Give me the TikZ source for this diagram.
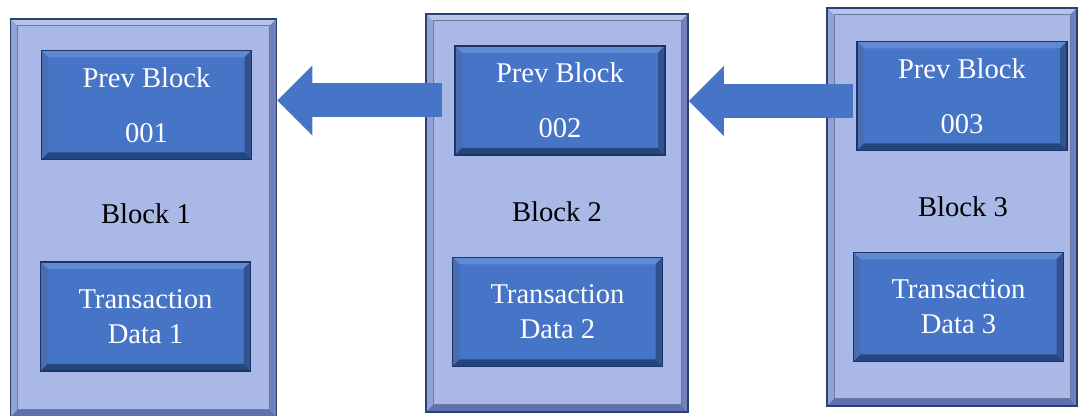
\documentclass[tikz,border=0pt]{standalone}
\usepackage{fontspec}
\setmainfont{Liberation Serif}
\usetikzlibrary{arrows.meta}
\definecolor{lav}{HTML}{A9B8E6}
\definecolor{lavlight}{HTML}{B7C4EE}
\definecolor{lavdark}{HTML}{5E70AE}
\definecolor{rim}{HTML}{2E3F72}
\definecolor{boxblue}{HTML}{4674C6}
\definecolor{boxlight}{HTML}{6089D3}
\definecolor{boxdark}{HTML}{24467F}
\definecolor{boxrim}{HTML}{1C3566}

% bevelled edge: light colour, dark colour, depth
\newcommand{\bevel}[3]{%
	\coordinate (bl) at (path picture bounding box.south west);
	\coordinate (tr) at (path picture bounding box.north east);
	\fill[#1] (bl |- tr) -- (tr) -- ([shift={(-#3,-#3)}]tr) -- ([shift={(#3,-#3)}]bl |- tr) -- cycle;
	\fill[#1!60!#2] (bl) -- (bl |- tr) -- ([shift={(#3,-#3)}]bl |- tr) -- ([shift={(#3,#3)}]bl) -- cycle;
	\fill[#2] (bl) -- (tr |- bl) -- ([shift={(-#3,#3)}]tr |- bl) -- ([shift={(#3,#3)}]bl) -- cycle;
	\fill[#2!80!#1] (tr |- bl) -- (tr) -- ([shift={(-#3,-#3)}]tr) -- ([shift={(-#3,#3)}]tr |- bl) -- cycle;
}

\begin{document}
\begin{tikzpicture}[x=0.5pt, y=-0.5pt,
	every node/.style={font=\fontsize{14.3pt}{17.5pt}\selectfont},
	chain/.style={draw=rim, fill=lav, line width=0.9pt, minimum width=131pt, minimum height=199pt,
		path picture={\bevel{lavlight}{lavdark}{3.5pt}
			\draw[rim!70, line width=0.5pt] ([shift={(3.5pt,3.5pt)}]bl) rectangle ([shift={(-3.5pt,-3.5pt)}]tr);}},
	field/.style={draw=boxrim, fill=boxblue, line width=0.6pt, text=white, align=center,
		minimum width=105pt, minimum height=54.5pt, path picture={\bevel{boxlight}{boxdark}{3.5pt}}},
	bigarrow/.style={draw=boxblue, line width=17pt, -{Triangle[length=17.5pt, width=35pt, line width=0pt]}}]
			\useasboundingbox (0,0) rectangle (1084,416);
			\node[chain, minimum width=133pt] (blk1) at (143.5,218) {};
			\node[chain] (blk2) at (557,213) {};
			\node[chain, minimum width=125pt] (blk3) at (952,207) {};
			\node[field] (prev1) at (146.5,105) {Prev Block\\[10pt]001};
			\node[field] (prev2) at (560,100.5) {Prev Block\\[10pt]002};
			\node[field] (prev3) at (962,96) {Prev Block\\[10pt]003};
			\node (lbl1) at (146,214) {Block 1};
			\node (lbl2) at (557,212) {Block 2};
			\node (lbl3) at (963,207) {Block 3};
			\node[field] (tx1) at (145.5,316.5) {Transaction\\Data 1};
			\node[field] (tx2) at (557.5,312) {Transaction\\Data 2};
			\node[field] (tx3) at (958.5,307) {Transaction\\Data 3};
			\coordinate (from2) at ([xshift=-6pt]prev2.west);
			\coordinate (from3) at ([xshift=-1.5pt,yshift=-2.5pt]prev3.west);
			\draw[bigarrow] (from2) -- (from2 -| blk1.east);
			\draw[bigarrow] (from3) -- (from3 -| blk2.east);
		\end{tikzpicture}
\end{document}
